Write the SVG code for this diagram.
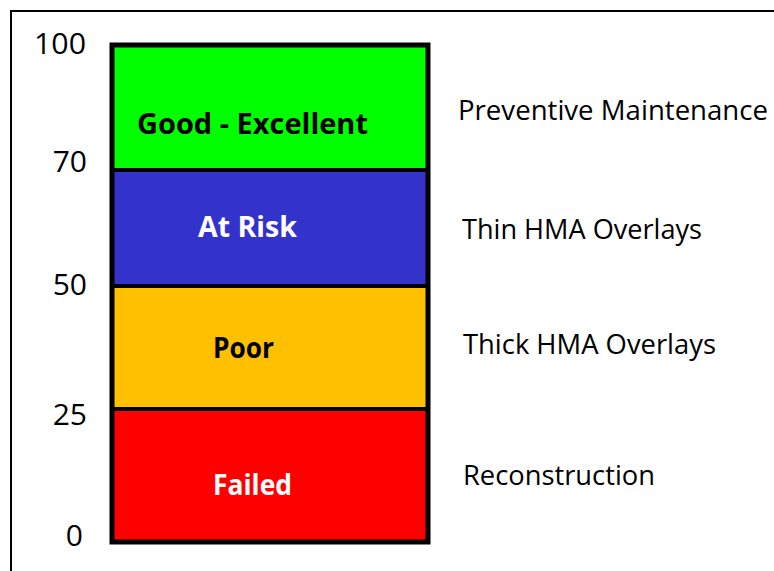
<svg xmlns="http://www.w3.org/2000/svg" width="774" height="571" viewBox="0 0 774 571">
<style>
.band{stroke:#000;stroke-width:4}
.num{font-family:"Open Sans","Noto Sans",sans-serif;font-size:30px;fill:#000;text-anchor:end}
.act{font-family:"Open Sans","Noto Sans",sans-serif;font-size:27px;fill:#000}
.lbl{font-family:"Open Sans","Noto Sans",sans-serif;font-size:28px;font-weight:bold;text-anchor:middle}
</style>
<rect x="0" y="0" width="774" height="571" fill="#fff"/>
<rect x="11" y="11" width="800" height="600" fill="none" stroke="#000" stroke-width="2"/>
<g id="axis">
<text class="num" x="86" y="54" textLength="52" lengthAdjust="spacingAndGlyphs">100</text>
<text class="num" x="87" y="172">70</text>
<text class="num" x="87" y="295">50</text>
<text class="num" x="87" y="425">25</text>
<text class="num" x="83" y="546">0</text>
</g>
<g id="good">
<rect class="band" x="112" y="45" width="316" height="125" fill="#00ff00"/>
<text class="lbl" x="252.5" y="134" fill="#000" textLength="231" lengthAdjust="spacingAndGlyphs">Good - Excellent</text>
</g>
<g id="atrisk">
<rect class="band" x="112" y="170" width="316" height="116" fill="#3333cc"/>
<text class="lbl" x="247.5" y="237" fill="#fff" textLength="99" lengthAdjust="spacingAndGlyphs">At Risk</text>
</g>
<g id="poor">
<rect class="band" x="112" y="286" width="316" height="123" fill="#ffc000"/>
<text class="lbl" x="243.5" y="358" fill="#000" textLength="61" lengthAdjust="spacingAndGlyphs">Poor</text>
</g>
<g id="failed">
<rect class="band" x="112" y="409" width="316" height="133" fill="#ff0000"/>
<text class="lbl" x="252.5" y="495" fill="#fff" textLength="79" lengthAdjust="spacingAndGlyphs">Failed</text>
</g>
<rect x="112" y="45" width="316" height="497" fill="none" stroke="#000" stroke-width="5"/>
<g id="actions">
<text class="act" x="458" y="120" textLength="310" lengthAdjust="spacingAndGlyphs">Preventive Maintenance</text>
<text class="act" x="462" y="239" textLength="240" lengthAdjust="spacingAndGlyphs">Thin HMA Overlays</text>
<text class="act" x="463" y="354" textLength="253" lengthAdjust="spacingAndGlyphs">Thick HMA Overlays</text>
<text class="act" x="463" y="485" textLength="192" lengthAdjust="spacingAndGlyphs">Reconstruction</text>
</g>
<g id="connectors"></g>
</svg>
